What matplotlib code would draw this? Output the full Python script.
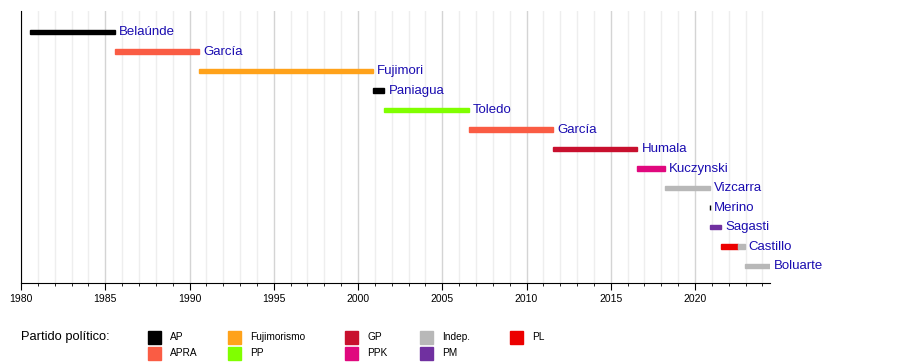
import matplotlib
matplotlib.use('Agg')
import matplotlib.pyplot as plt
from matplotlib.patches import Rectangle
from matplotlib.ticker import MultipleLocator

plt.rcParams['font.family'] = ['Liberation Sans', 'DejaVu Sans']

# presidents, one row each; some rows have two party segments
names = ['Belaúnde', 'García', 'Fujimori', 'Paniagua', 'Toledo', 'García',
         'Humala', 'Kuczynski', 'Vizcarra', 'Merino', 'Sagasti', 'Castillo',
         'Boluarte']
seg_row = [0, 1, 2, 3, 4, 5, 6, 7, 8, 9, 10, 11, 11, 12]
seg_start = [1980.55, 1985.57, 1990.57, 2000.89, 2001.57, 2006.57, 2011.57,
             2016.57, 2018.22, 2020.86, 2020.88, 2021.57, 2022.55, 2022.94]
seg_end = [1985.57, 1990.57, 2000.89, 2001.57, 2006.57, 2011.57, 2016.57,
           2018.22, 2020.86, 2020.88, 2021.57, 2022.55, 2022.94, 2024.45]
seg_party = ['AP', 'APRA', 'Fujimorismo', 'AP', 'PP', 'APRA', 'GP', 'PPK',
             'Indep.', 'AP', 'PM', 'PL', 'Indep.', 'Indep.']

parties = ['AP', 'APRA', 'Fujimorismo', 'PP', 'GP', 'PPK', 'Indep.', 'PM', 'PL']
party_colors = {'AP': '#000000', 'APRA': '#fa5c44', 'Fujimorismo': '#ffa21a',
                'PP': '#80ff00', 'GP': '#c8102e', 'PPK': '#e0087e',
                'Indep.': '#b8b8b8', 'PM': '#7030a0', 'PL': '#ec0000'}

fig = plt.figure(figsize=(9, 3.63), dpi=100)
ax = fig.add_axes([21 / 900, 80 / 363, 749 / 900, 272 / 363])

for r, s, e, p in zip(seg_row, seg_start, seg_end, seg_party):
    ax.barh(r, e - s, left=s, height=0.25, color=party_colors[p],
            edgecolor=party_colors[p], linewidth=1.0, zorder=3)

# label at end of each row
for i, n in enumerate(names):
    end = max(e for r, e in zip(seg_row, seg_end) if r == i)
    ax.text(end + 0.25, i, n, color='#1a0cb0', fontsize=9.5,
            va='center', ha='left', zorder=4)

ax.set_xlim(1980, 2024.45)
ax.set_ylim(12.87, -1.08)
ax.xaxis.set_major_locator(MultipleLocator(5))
ax.xaxis.set_minor_locator(MultipleLocator(1))
ax.grid(axis='x', which='major', color='#d4d4d4', linewidth=1, zorder=0)
ax.grid(axis='x', which='minor', color='#eeeeee', linewidth=1, zorder=0)
ax.set_yticks([])
ax.spines['top'].set_visible(False)
ax.spines['right'].set_visible(False)
ax.tick_params(axis='x', which='major', length=5, labelsize=7.5, pad=3)
ax.tick_params(axis='x', which='minor', length=2.5)

# legend
fig.text(21 / 900, 1 - 337 / 363, 'Partido político:', fontsize=9.3,
         va='center', ha='left')
col_x = [148, 228, 345, 420, 510]
row_y = [337, 353]
for k, p in enumerate(parties):
    cx = col_x[k // 2]
    cy = row_y[k % 2]
    fig.patches.append(Rectangle(((cx) / 900, 1 - (cy + 6.5) / 363),
                                 13 / 900, 13 / 363, color=party_colors[p],
                                 transform=fig.transFigure, figure=fig))
    fig.text((cx + 22) / 900, 1 - cy / 363, p, fontsize=7.3,
             va='center', ha='left')

fig.savefig('out.png', dpi=100)
